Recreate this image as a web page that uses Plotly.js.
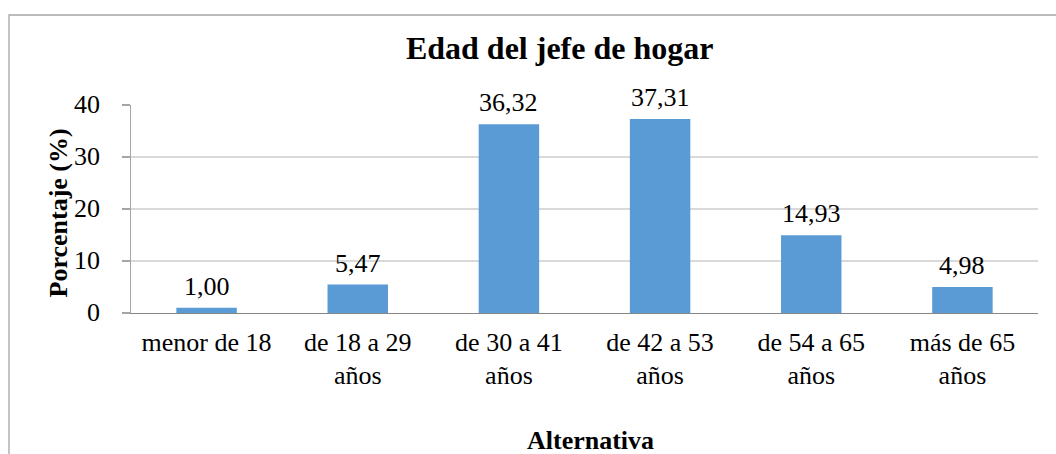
<!DOCTYPE html>
<html>
<head>
<meta charset="utf-8">
<script src="https://cdn.plot.ly/plotly-3.0.1.min.js"></script>
<style>
  html, body { margin: 0; padding: 0; background: #ffffff; }
  #chart { width: 1056px; height: 454px; }
</style>
</head>
<body>
<div id="chart"></div>
<script>
const categories = [
  "menor de 18",
  "de 18 a 29<br>años",
  "de 30 a 41<br>años",
  "de 42 a 53<br>años",
  "de 54 a 65<br>años",
  "más de 65<br>años"
];
const percentages = [1.00, 5.47, 36.32, 37.31, 14.93, 4.98];
const yTickValues = [0, 10, 20, 30, 40];
const chartTitle = "Edad del jefe de hogar";
const yTitle = "Porcentaje (%)";
const xTitle = "Alternativa";

const FONT = "Liberation Serif, Times New Roman, serif";
const fmt = v => v.toFixed(2).replace('.', ',');
const txt = (size) => ({ family: FONT, size: size, color: '#000000' });

// plot-area geometry (pixels) used to place the free text
const L = 131, R = 18, T = 105, B = 141;
const PW = 1056 - L - R, PH = 454 - T - B;
const px2x = p => (p - L) / PW;
const py2y = p => (454 - B - p) / PH;

const labelAnnotations = categories.map((c, i) => ({
  x: c, y: percentages[i], xref: 'x', yref: 'y',
  text: fmt(percentages[i]), showarrow: false,
  yanchor: 'bottom', yshift: 5, font: txt(26)
}));

const yTickAnnotations = yTickValues.map(v => ({
  x: 0, xref: 'paper', y: v, yref: 'y',
  text: String(v), showarrow: false,
  xanchor: 'right', yanchor: 'middle', xshift: -29, yshift: 1,
  font: txt(26)
}));

const titleAnnotations = [
  { x: px2x(57.5), xref: 'paper', y: 0.5, yref: 'paper',
    text: '<b>' + yTitle + '</b>', textangle: -90, showarrow: false,
    xanchor: 'center', yanchor: 'middle', yshift: -4, font: txt(26) },
  { x: px2x(590), xref: 'paper', y: py2y(440), yref: 'paper',
    text: '<b>' + xTitle + '</b>', showarrow: false,
    xanchor: 'center', yanchor: 'middle', font: txt(26) }
];

const trace = {
  type: 'bar',
  x: categories,
  y: percentages,
  marker: { color: '#5b9bd5' },
  hoverinfo: 'skip'
};

const layout = {
  width: 1056, height: 454,
  paper_bgcolor: '#ffffff', plot_bgcolor: '#ffffff',
  margin: { l: L, r: R, t: T, b: B },
  bargap: 0.6,
  showlegend: false,
  font: txt(26),
  title: {
    text: '<b>' + chartTitle + '</b>',
    font: txt(32),
    xref: 'container', x: 0.530, xanchor: 'center',
    yref: 'container', y: 1 - 48 / 454, yanchor: 'middle'
  },
  xaxis: {
    type: 'category',
    automargin: false,
    showgrid: false,
    showline: true, linecolor: '#868686', linewidth: 1.3,
    ticks: '', ticklabelstandoff: 5,
    tickfont: txt(26),
    zeroline: false, fixedrange: true
  },
  yaxis: {
    range: [0, 40],
    automargin: false,
    tickvals: yTickValues,
    showticklabels: false,
    showgrid: true, gridcolor: '#d9d9d9', gridwidth: 1.3,
    showline: true, linecolor: '#a6a6a6', linewidth: 1.3,
    ticks: 'outside', ticklen: 8, tickcolor: '#a6a6a6', tickwidth: 1.3,
    zeroline: false, fixedrange: true
  },
  annotations: labelAnnotations.concat(yTickAnnotations, titleAnnotations),
  shapes: [{
    type: 'rect', xref: 'paper', yref: 'paper',
    x0: px2x(9), x1: px2x(1070),
    y0: py2y(480), y1: py2y(15),
    line: { color: '#a6a6a6', width: 1.3 }, fillcolor: 'rgba(0,0,0,0)',
    layer: 'below'
  }]
};

Plotly.newPlot('chart', [trace], layout, { displayModeBar: false, staticPlot: true });
</script>
</body>
</html>
